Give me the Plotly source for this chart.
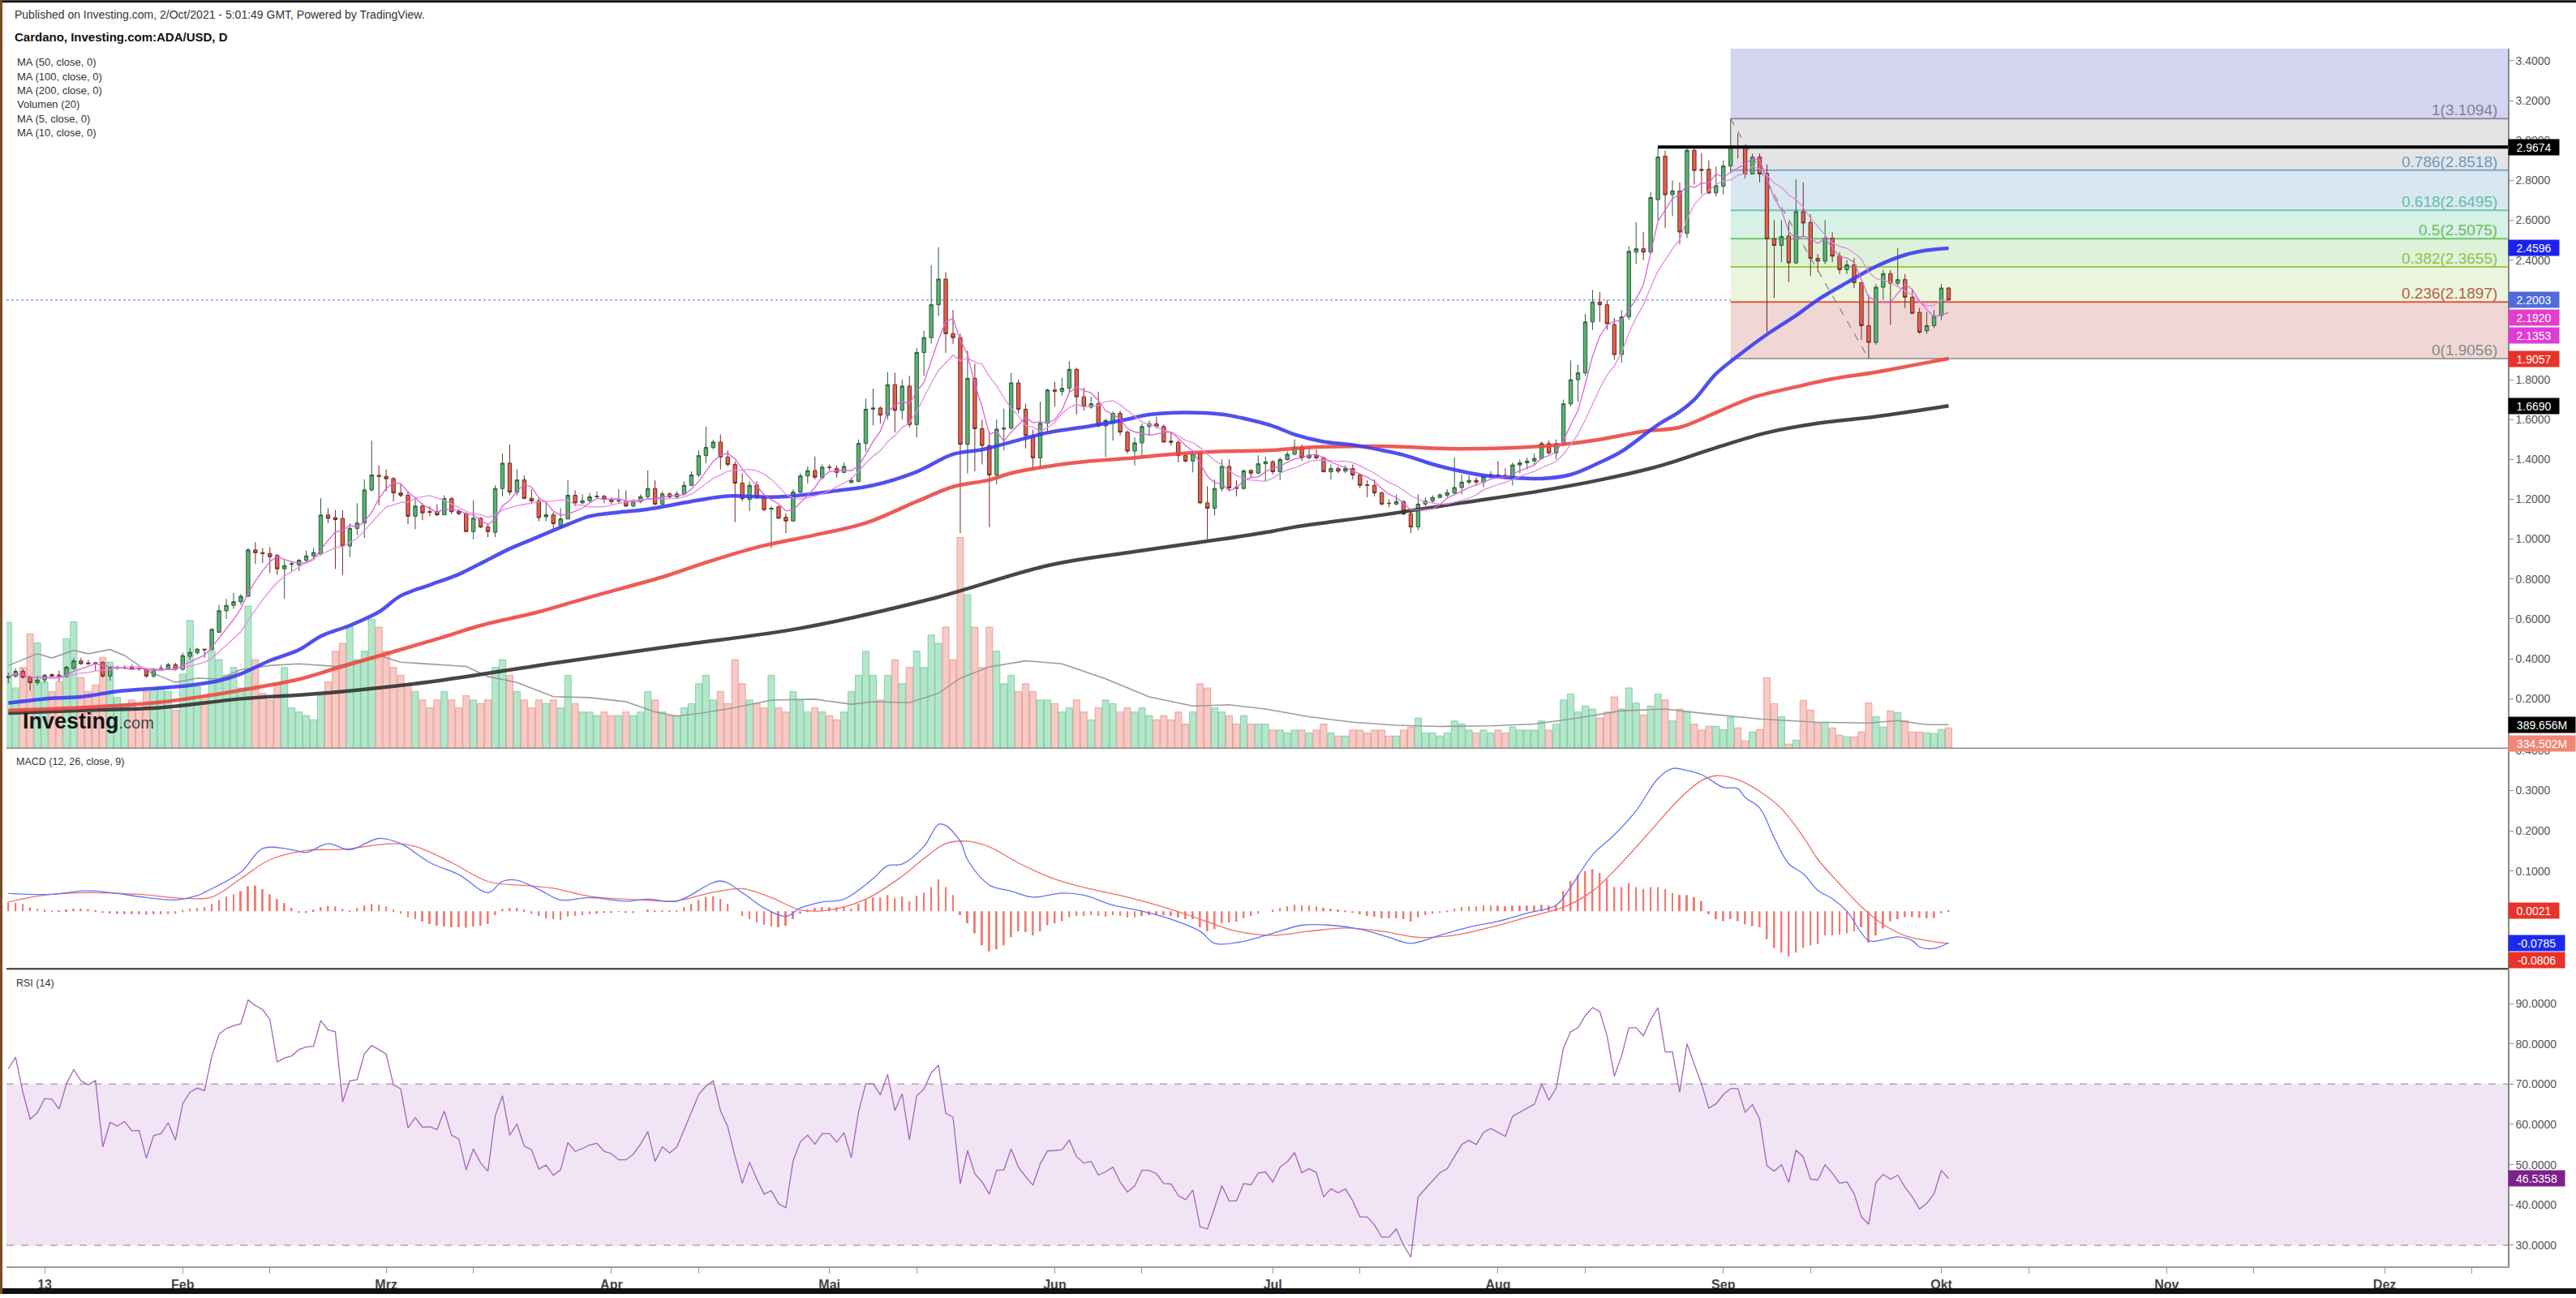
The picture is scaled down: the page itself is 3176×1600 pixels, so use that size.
import pandas as pd
import plotly.graph_objects as go

W, H = 3176, 1600
ML, MR, MT, MB = 8, 84, 60, 34
PW, PH = W - ML - MR, H - MT - MB


def px(x):
    return (x - ML) / PW


def py(y):
    return (H - MB - y) / PH


FONT = "Liberation Sans, Arial, Helvetica, sans-serif"

dates = pd.date_range("2021-01-08", "2021-10-02", freq="D")

open_ = [
    0.305, 0.312, 0.337, 0.307, 0.280, 0.293, 0.320, 0.318, 0.310, 0.351, 0.389, 0.379, 0.380, 0.383, 0.313, 0.352, 0.353, 0.360, 0.350, 0.347, 0.313, 0.347, 0.350, 0.370,
    0.347, 0.412, 0.430, 0.448, 0.445, 0.533, 0.641, 0.668, 0.686, 0.713, 0.946, 0.932, 0.928, 0.918, 0.851, 0.873, 0.871, 0.894, 0.916, 0.925, 1.121, 1.108, 1.104, 0.966, 1.054, 1.081, 1.247, 1.320,
    1.315, 1.304, 1.232, 1.220, 1.115, 1.166, 1.138, 1.138, 1.122, 1.203, 1.139, 1.128, 1.038, 1.105, 1.061, 1.034, 1.254, 1.381, 1.236, 1.297, 1.205, 1.192, 1.112, 1.122, 1.070, 1.101, 1.220, 1.182, 1.193, 1.212, 1.215,
    1.200, 1.191, 1.191, 1.166, 1.189, 1.213, 1.254, 1.176, 1.227, 1.212, 1.227, 1.270, 1.322, 1.419, 1.460, 1.487, 1.412, 1.375, 1.281, 1.200, 1.270, 1.212, 1.150, 1.162, 1.110, 1.091, 1.236, 1.317, 1.344, 1.309,
    1.361, 1.354, 1.335, 1.284, 1.290, 1.480, 1.652, 1.658, 1.622, 1.775, 1.646, 1.768, 1.575, 1.936, 2.011, 2.176, 2.305, 2.031, 2.011, 1.476, 1.807, 1.554, 1.470, 1.322, 1.552, 1.557, 1.784, 1.652, 1.520, 1.408, 1.581,
    1.748, 1.741, 1.757, 1.852, 1.714, 1.662, 1.679, 1.568, 1.581, 1.631, 1.537, 1.442, 1.483, 1.565, 1.579, 1.565, 1.492, 1.486, 1.419, 1.392, 1.430, 1.182, 1.155, 1.254, 1.365, 1.260, 1.254, 1.345, 1.331, 1.378,
    1.388, 1.338, 1.399, 1.426, 1.462, 1.408, 1.422, 1.408, 1.338, 1.354, 1.341, 1.354, 1.322, 1.272, 1.270, 1.232, 1.180, 1.176, 1.189, 1.128, 1.061, 1.176, 1.192, 1.209, 1.220, 1.232, 1.259, 1.286, 1.295, 1.286, 1.314,
    1.322, 1.320, 1.310, 1.372, 1.383, 1.392, 1.405, 1.480, 1.433, 1.480, 1.679, 1.800, 1.834, 2.090, 2.190, 2.176, 2.077, 1.926, 2.115, 2.440, 2.457, 2.440, 2.703, 2.922, 2.728, 2.747, 2.534, 2.951, 2.855, 2.856, 2.737,
    2.771, 2.872, 2.970, 2.967, 2.832, 2.917, 2.835, 2.507, 2.474, 2.521, 2.386, 2.643, 2.589, 2.409, 2.395, 2.510, 2.420, 2.352, 2.376, 2.287, 2.071, 1.987, 2.264, 2.332, 2.284, 2.302, 2.214, 2.138, 2.045, 2.071,
    2.122, 2.260,
]
high = [
    0.330, 0.351, 0.351, 0.315, 0.315, 0.325, 0.327, 0.340, 0.365, 0.405, 0.405, 0.395, 0.383, 0.386, 0.360, 0.365, 0.367, 0.370, 0.358, 0.352, 0.355, 0.370, 0.380, 0.380,
    0.430, 0.455, 0.455, 0.450, 0.555, 0.670, 0.700, 0.730, 0.725, 0.955, 0.985, 0.955, 0.960, 0.925, 0.895, 0.890, 0.900, 0.942, 0.955, 1.205, 1.155, 1.146, 1.145, 1.080, 1.180, 1.300, 1.495, 1.370,
    1.350, 1.310, 1.275, 1.240, 1.200, 1.180, 1.165, 1.175, 1.220, 1.210, 1.150, 1.135, 1.195, 1.110, 1.075, 1.270, 1.430, 1.475, 1.350, 1.320, 1.250, 1.210, 1.185, 1.135, 1.155, 1.295, 1.245, 1.225, 1.232, 1.240, 1.222,
    1.210, 1.250, 1.245, 1.200, 1.225, 1.345, 1.295, 1.240, 1.235, 1.240, 1.290, 1.340, 1.445, 1.565, 1.500, 1.525, 1.445, 1.390, 1.330, 1.290, 1.290, 1.225, 1.165, 1.170, 1.130, 1.250, 1.330, 1.365, 1.415, 1.375,
    1.375, 1.370, 1.385, 1.310, 1.500, 1.705, 1.755, 1.665, 1.838, 1.835, 1.800, 1.820, 1.960, 2.045, 2.375, 2.465, 2.340, 2.150, 2.030, 1.945, 1.880, 1.600, 1.540, 1.600, 1.655, 1.835, 1.800, 1.680, 1.548, 1.690, 1.755,
    1.790, 1.810, 1.893, 1.860, 1.760, 1.715, 1.740, 1.605, 1.640, 1.645, 1.545, 1.510, 1.580, 1.595, 1.615, 1.575, 1.540, 1.497, 1.430, 1.445, 1.440, 1.265, 1.300, 1.400, 1.400, 1.295, 1.350, 1.350, 1.420, 1.415,
    1.397, 1.410, 1.440, 1.500, 1.475, 1.465, 1.450, 1.415, 1.375, 1.365, 1.370, 1.375, 1.330, 1.295, 1.300, 1.240, 1.200, 1.225, 1.195, 1.140, 1.225, 1.210, 1.220, 1.230, 1.250, 1.410, 1.325, 1.320, 1.310, 1.325, 1.340,
    1.392, 1.355, 1.385, 1.400, 1.410, 1.430, 1.490, 1.495, 1.500, 1.700, 1.897, 1.875, 2.130, 2.250, 2.240, 2.200, 2.110, 2.150, 2.470, 2.590, 2.540, 2.740, 2.965, 2.950, 2.800, 2.790, 2.960, 2.960, 2.937, 2.900, 2.870,
    2.900, 3.1094, 3.035, 2.975, 2.935, 2.935, 2.880, 2.600, 2.600, 2.590, 2.805, 2.790, 2.630, 2.430, 2.600, 2.540, 2.440, 2.400, 2.410, 2.290, 2.225, 2.280, 2.350, 2.350, 2.460, 2.330, 2.250, 2.160, 2.140, 2.150,
    2.280, 2.265,
]
low = [
    0.276, 0.305, 0.300, 0.240, 0.268, 0.280, 0.305, 0.285, 0.305, 0.345, 0.370, 0.370, 0.340, 0.305, 0.290, 0.345, 0.348, 0.343, 0.340, 0.305, 0.305, 0.340, 0.345, 0.340,
    0.340, 0.395, 0.420, 0.405, 0.445, 0.530, 0.600, 0.650, 0.670, 0.713, 0.875, 0.880, 0.830, 0.820, 0.700, 0.838, 0.840, 0.880, 0.900, 0.918, 1.080, 0.851, 0.820, 0.910, 1.020, 1.005, 1.240, 1.170,
    1.240, 1.190, 1.210, 1.075, 1.050, 1.095, 1.115, 1.115, 1.120, 1.125, 1.120, 1.035, 1.000, 1.055, 1.010, 1.010, 1.215, 1.220, 1.220, 1.200, 1.175, 1.090, 1.090, 1.050, 1.055, 1.100, 1.165, 1.175, 1.185, 1.205, 1.180,
    1.175, 1.180, 1.160, 1.160, 1.180, 1.205, 1.170, 1.170, 1.205, 1.205, 1.220, 1.265, 1.310, 1.380, 1.450, 1.350, 1.365, 1.085, 1.190, 1.140, 1.200, 1.140, 0.955, 1.100, 1.030, 1.090, 1.230, 1.280, 1.300, 1.300,
    1.345, 1.310, 1.330, 1.280, 1.285, 1.440, 1.570, 1.580, 1.600, 1.535, 1.600, 1.560, 1.510, 1.820, 1.980, 2.120, 1.935, 1.980, 1.030, 1.330, 1.340, 1.375, 1.060, 1.275, 1.445, 1.550, 1.630, 1.455, 1.345, 1.355, 1.535,
    1.665, 1.720, 1.735, 1.625, 1.645, 1.655, 1.560, 1.412, 1.495, 1.520, 1.430, 1.370, 1.405, 1.520, 1.555, 1.485, 1.470, 1.385, 1.385, 1.335, 1.175, 1.000, 1.120, 1.240, 1.240, 1.215, 1.250, 1.305, 1.325, 1.290,
    1.325, 1.295, 1.395, 1.420, 1.392, 1.400, 1.400, 1.335, 1.300, 1.330, 1.330, 1.300, 1.255, 1.210, 1.215, 1.170, 1.160, 1.170, 1.120, 1.030, 1.045, 1.165, 1.180, 1.205, 1.210, 1.225, 1.225, 1.275, 1.270, 1.260, 1.305,
    1.310, 1.300, 1.270, 1.330, 1.350, 1.370, 1.400, 1.425, 1.400, 1.470, 1.665, 1.690, 1.820, 2.050, 2.090, 2.050, 1.900, 1.885, 2.100, 2.380, 2.400, 2.430, 2.600, 2.560, 2.620, 2.480, 2.510, 2.780, 2.730, 2.730, 2.720,
    2.730, 2.840, 2.910, 2.810, 2.830, 2.790, 2.040, 2.210, 2.390, 2.290, 2.380, 2.515, 2.320, 2.340, 2.380, 2.390, 2.330, 2.330, 2.260, 2.000, 1.9056, 1.975, 2.200, 2.075, 2.270, 2.160, 2.130, 2.030, 2.030, 2.060,
    2.100, 2.195,
]
close = [
    0.312, 0.337, 0.307, 0.280, 0.293, 0.317, 0.313, 0.310, 0.357, 0.389, 0.375, 0.375, 0.378, 0.313, 0.355, 0.356, 0.358, 0.348, 0.349, 0.313, 0.347, 0.353, 0.370, 0.347,
    0.416, 0.432, 0.448, 0.445, 0.547, 0.641, 0.668, 0.686, 0.713, 0.946, 0.932, 0.928, 0.912, 0.851, 0.867, 0.877, 0.894, 0.916, 0.933, 1.121, 1.104, 1.098, 0.966, 1.054, 1.081, 1.247, 1.322, 1.315,
    1.303, 1.232, 1.220, 1.115, 1.166, 1.132, 1.135, 1.122, 1.203, 1.138, 1.128, 1.038, 1.105, 1.061, 1.038, 1.254, 1.381, 1.236, 1.297, 1.205, 1.192, 1.108, 1.122, 1.078, 1.101, 1.220, 1.182, 1.193, 1.212, 1.215, 1.200,
    1.189, 1.193, 1.166, 1.189, 1.213, 1.254, 1.176, 1.227, 1.212, 1.227, 1.270, 1.322, 1.419, 1.460, 1.487, 1.412, 1.375, 1.281, 1.203, 1.270, 1.209, 1.148, 1.155, 1.105, 1.091, 1.236, 1.317, 1.344, 1.311, 1.361,
    1.360, 1.335, 1.365, 1.295, 1.480, 1.652, 1.658, 1.622, 1.775, 1.646, 1.768, 1.575, 1.936, 2.011, 2.176, 2.305, 2.031, 2.011, 1.476, 1.807, 1.554, 1.470, 1.322, 1.552, 1.557, 1.784, 1.652, 1.520, 1.408, 1.581, 1.748,
    1.742, 1.757, 1.852, 1.714, 1.665, 1.679, 1.568, 1.595, 1.631, 1.537, 1.442, 1.483, 1.565, 1.579, 1.565, 1.487, 1.486, 1.419, 1.392, 1.430, 1.182, 1.155, 1.254, 1.365, 1.257, 1.254, 1.342, 1.331, 1.378, 1.388,
    1.338, 1.399, 1.426, 1.462, 1.408, 1.422, 1.408, 1.338, 1.354, 1.341, 1.354, 1.322, 1.270, 1.270, 1.232, 1.176, 1.179, 1.189, 1.126, 1.061, 1.176, 1.192, 1.209, 1.222, 1.233, 1.259, 1.286, 1.295, 1.286, 1.314, 1.324,
    1.320, 1.310, 1.372, 1.383, 1.392, 1.405, 1.480, 1.433, 1.480, 1.679, 1.800, 1.834, 2.090, 2.190, 2.176, 2.081, 1.926, 2.115, 2.444, 2.457, 2.440, 2.714, 2.917, 2.728, 2.747, 2.541, 2.951, 2.850, 2.850, 2.737, 2.774,
    2.872, 2.967, 2.962, 2.832, 2.917, 2.832, 2.507, 2.474, 2.518, 2.386, 2.643, 2.586, 2.409, 2.395, 2.510, 2.420, 2.352, 2.376, 2.287, 2.071, 1.987, 2.264, 2.332, 2.284, 2.302, 2.214, 2.133, 2.038, 2.071, 2.119,
    2.260, 2.2003,
]
volume_m = [
    2090, 1000, 1340, 1900, 1750, 1100, 940, 1100, 1820, 2100, 1170, 940, 1050, 1510, 1430, 840, 740, 800, 670, 940, 1000, 1000, 940, 630,
    1230, 2120, 1020, 870, 1610, 1470, 1210, 1340, 1000, 2360, 1470, 910, 800, 1070, 1340, 670, 600, 540, 470, 870, 1100, 1610, 1740, 2010, 1470, 1610, 2140, 2010,
    1610, 1340, 1210, 1070, 940, 800, 670, 800, 940, 800, 670, 870, 800, 740, 800, 1340, 1470, 1210, 940, 800, 670, 800, 740, 800, 670, 1210, 740, 600, 600, 540, 600,
    540, 540, 600, 540, 600, 940, 800, 600, 540, 540, 670, 740, 1070, 1210, 800, 940, 740, 1470, 1070, 800, 740, 670, 1210, 670, 600, 940, 800, 600, 670, 600,
    540, 470, 600, 940, 1210, 1610, 1210, 800, 1210, 1470, 1070, 1340, 1610, 1340, 1880, 1740, 2010, 1470, 3500, 2550, 2010, 1340, 2010, 1610, 1070, 1210, 940, 1070, 940, 800, 800,
    740, 600, 670, 800, 600, 470, 670, 800, 740, 600, 670, 600, 670, 540, 470, 540, 470, 600, 400, 600, 1070, 1000, 670, 600, 540, 400, 540, 400, 400, 400,
    300, 300, 250, 300, 300, 250, 300, 400, 250, 200, 200, 300, 300, 250, 300, 300, 200, 200, 300, 350, 500, 250, 250, 200, 250, 450, 400, 300, 250, 300, 250,
    300, 250, 350, 300, 300, 300, 450, 300, 400, 800, 900, 600, 700, 650, 500, 600, 850, 650, 1000, 750, 550, 700, 900, 800, 450, 650, 600, 400, 300, 363, 363,
    309, 511, 336, 121, 269, 309, 1169, 739, 524, 67, 134, 793, 632, 417, 430, 336, 215, 188, 188, 270, 753, 524, 349, 618, 591, 457, 269, 269, 255, 242,
    309, 334.502,
]
rsi = [
    73.8, 76.7, 68.0, 61.3, 62.9, 66.4, 66.2, 63.8, 70.1, 73.6, 70.8, 69.8, 70.9, 54.4, 60.5, 59.6, 60.7, 58.4, 58.5, 51.6, 57.2, 57.7, 60.4, 56.1,
    65.1, 68.0, 69.0, 68.4, 76.9, 82.4, 83.8, 84.5, 85.0, 90.9, 89.5, 88.5, 86.0, 75.5, 76.5, 77.0, 78.6, 79.2, 79.4, 85.8, 83.5, 83.0, 65.6, 70.8, 71.1, 77.5, 79.6, 78.5,
    77.5, 69.8, 68.8, 59.1, 61.7, 59.3, 59.4, 58.7, 63.3, 57.3, 56.4, 48.7, 53.9, 50.4, 48.4, 62.1, 67.1, 57.3, 60.1, 54.6, 53.7, 48.9, 49.9, 47.4, 48.7, 55.5, 53.3, 54.0, 54.9, 55.3, 53.3,
    52.7, 51.2, 51.2, 52.6, 55.1, 58.2, 50.8, 54.4, 52.9, 54.4, 58.7, 63.0, 67.4, 69.5, 70.8, 63.4, 59.4, 52.0, 45.4, 50.6, 46.4, 42.7, 43.5, 40.3, 39.3, 51.0, 55.7, 57.3, 55.1, 57.7,
    57.7, 55.6, 57.9, 51.7, 63.1, 70.1, 70.1, 67.3, 72.4, 63.4, 67.6, 56.2, 67.1, 68.8, 72.8, 74.7, 62.8, 61.8, 45.2, 53.5, 47.7, 45.7, 42.7, 48.6, 48.7, 53.9, 49.4, 47.0, 44.9, 50.2, 53.4,
    53.5, 53.7, 56.1, 52.0, 50.4, 50.8, 47.4, 48.2, 49.4, 45.7, 43.2, 44.7, 48.6, 48.6, 47.7, 45.3, 45.2, 42.3, 41.3, 43.7, 34.6, 34.0, 39.3, 44.8, 41.0, 41.0, 45.3, 45.0, 47.9, 48.2,
    45.7, 49.4, 50.7, 53.0, 48.0, 49.0, 48.0, 42.0, 44.0, 43.0, 44.0, 41.0, 37.0, 37.0, 35.0, 32.0, 32.0, 34.0, 30.0, 27.0, 42.0, 44.0, 46.0, 48.0, 49.0, 52.0, 55.0, 56.0, 55.0, 58.0, 59.0,
    58.0, 57.0, 62.0, 63.0, 64.0, 65.0, 70.0, 66.0, 69.0, 79.0, 83.0, 84.0, 87.0, 89.0, 88.0, 82.0, 72.0, 77.0, 84.0, 84.0, 82.0, 86.0, 89.0, 78.0, 78.0, 68.0, 80.0, 75.0, 70.0, 64.0, 65.1,
    67.4, 68.9, 68.9, 63.0, 64.9, 61.3, 49.7, 48.4, 50.0, 45.6, 53.6, 51.9, 46.4, 46.2, 50.0, 47.9, 45.4, 45.7, 42.8, 37.0, 35.2, 45.6, 47.6, 46.4, 47.4, 44.4, 42.0, 39.0, 40.4, 42.8,
    48.6, 46.5358,
]
macd_hist = [
    0.022, 0.020, 0.018, 0.010, 0.006, 0.004, 0.002, 0.001, 0.004, 0.006, 0.006, 0.005, 0.002, -0.004, -0.006, -0.007, -0.008, -0.008, -0.008, -0.009, -0.008, -0.008, -0.007, -0.006,
    0.003, 0.006, 0.008, 0.010, 0.018, 0.028, 0.036, 0.042, 0.050, 0.062, 0.064, 0.055, 0.042, 0.030, 0.020, 0.008, -0.003, -0.004, 0.004, 0.010, 0.013, 0.012, 0.006, 0.002, 0.008, 0.014, 0.018, 0.016,
    0.012, 0.004, -0.006, -0.015, -0.020, -0.026, -0.032, -0.036, -0.038, -0.040, -0.040, -0.041, -0.038, -0.036, -0.032, -0.010, 0.006, 0.008, 0.008, 0.004, -0.006, -0.012, -0.018, -0.020, -0.022, -0.014, -0.012, -0.010, -0.008, -0.006, -0.004,
    -0.002, -0.001, -0.003, -0.002, 0.000, 0.004, 0.001, 0.002, 0.001, 0.002, 0.010, 0.018, 0.028, 0.035, 0.037, 0.030, 0.018, 0.000, -0.012, -0.020, -0.028, -0.034, -0.038, -0.040, -0.036, -0.020, -0.006, 0.004, 0.008, 0.010,
    0.010, 0.010, 0.012, 0.006, 0.018, 0.030, 0.034, 0.034, 0.040, 0.032, 0.036, 0.024, 0.038, 0.046, 0.060, 0.079, 0.060, 0.040, -0.010, -0.030, -0.055, -0.085, -0.100, -0.095, -0.085, -0.065, -0.050, -0.052, -0.060, -0.050, -0.035,
    -0.030, -0.025, -0.015, -0.012, -0.012, -0.010, -0.012, -0.014, -0.010, -0.012, -0.016, -0.016, -0.012, -0.010, -0.008, -0.010, -0.012, -0.016, -0.020, -0.020, -0.040, -0.050, -0.045, -0.030, -0.028, -0.026, -0.018, -0.012, -0.006, 0.000,
    0.004, 0.008, 0.012, 0.016, 0.014, 0.014, 0.012, 0.008, 0.006, 0.004, 0.002, -0.002, -0.008, -0.012, -0.014, -0.018, -0.018, -0.018, -0.020, -0.026, -0.016, -0.010, -0.006, -0.002, 0.002, 0.006, 0.010, 0.012, 0.012, 0.014, 0.014,
    0.014, 0.012, 0.014, 0.014, 0.014, 0.014, 0.016, 0.014, 0.016, 0.050, 0.075, 0.090, 0.100, 0.105, 0.095, 0.080, 0.060, 0.060, 0.070, 0.060, 0.055, 0.060, 0.060, 0.055, 0.045, 0.040, 0.040, 0.035, 0.025, -0.008, -0.020,
    -0.025, -0.020, -0.025, -0.033, -0.037, -0.040, -0.070, -0.092, -0.103, -0.113, -0.103, -0.091, -0.085, -0.082, -0.060, -0.060, -0.058, -0.055, -0.050, -0.040, -0.078, -0.060, -0.043, -0.025, -0.020, -0.015, -0.015, -0.017, -0.018, -0.017,
    -0.005, 0.0021,
]

ma50_dates = ["2021-01-08", "2021-01-14", "2021-01-18", "2021-01-23", "2021-01-29", "2021-02-02", "2021-02-06", "2021-02-09", "2021-02-13", "2021-02-17", "2021-02-20", "2021-02-24", "2021-02-28", "2021-03-03", "2021-03-07", "2021-03-11", "2021-03-14", "2021-03-18", "2021-03-22", "2021-03-26", "2021-03-29", "2021-04-02", "2021-04-06", "2021-04-13", "2021-04-17", "2021-04-24", "2021-05-02", "2021-05-07", "2021-05-13", "2021-05-18", "2021-05-22", "2021-05-26", "2021-05-31", "2021-06-06", "2021-06-11", "2021-06-14", "2021-06-19", "2021-06-24", "2021-06-27", "2021-07-01", "2021-07-04", "2021-07-08", "2021-07-12", "2021-07-16", "2021-07-19", "2021-07-23", "2021-07-27", "2021-07-30", "2021-08-03", "2021-08-07", "2021-08-11", "2021-08-15", "2021-08-18", "2021-08-23", "2021-08-26", "2021-08-28", "2021-08-31", "2021-09-03", "2021-09-07", "2021-09-11", "2021-09-14", "2021-09-18", "2021-09-22", "2021-09-26", "2021-09-29", "2021-10-02"]
ma50_vals = [0.178, 0.202, 0.209, 0.236, 0.253, 0.267, 0.290, 0.324, 0.391, 0.445, 0.513, 0.567, 0.635, 0.716, 0.770, 0.824, 0.878, 0.952, 1.013, 1.074, 1.115, 1.135, 1.150, 1.196, 1.216, 1.212, 1.243, 1.270, 1.338, 1.426, 1.449, 1.487, 1.534, 1.568, 1.602, 1.625, 1.635, 1.626, 1.606, 1.568, 1.525, 1.489, 1.473, 1.446, 1.422, 1.376, 1.340, 1.320, 1.308, 1.304, 1.324, 1.385, 1.440, 1.574, 1.640, 1.700, 1.830, 1.919, 2.027, 2.122, 2.201, 2.287, 2.368, 2.426, 2.449, 2.4596]

ma100_dates = ["2021-01-08", "2021-01-18", "2021-01-29", "2021-02-09", "2021-02-17", "2021-02-22", "2021-03-08", "2021-03-14", "2021-03-22", "2021-03-29", "2021-04-08", "2021-04-13", "2021-04-21", "2021-04-28", "2021-05-06", "2021-05-13", "2021-05-18", "2021-05-23", "2021-05-26", "2021-05-31", "2021-06-06", "2021-06-11", "2021-06-17", "2021-06-23", "2021-07-01", "2021-07-06", "2021-07-16", "2021-07-27", "2021-08-07", "2021-08-11", "2021-08-15", "2021-08-21", "2021-08-26", "2021-08-31", "2021-09-05", "2021-09-11", "2021-09-16", "2021-09-22", "2021-09-28", "2021-10-02"]
ma100_vals = [0.141, 0.155, 0.182, 0.242, 0.297, 0.351, 0.499, 0.567, 0.635, 0.709, 0.810, 0.871, 0.959, 1.013, 1.081, 1.189, 1.263, 1.297, 1.331, 1.365, 1.392, 1.405, 1.426, 1.439, 1.446, 1.460, 1.466, 1.453, 1.466, 1.480, 1.500, 1.541, 1.561, 1.635, 1.710, 1.764, 1.804, 1.838, 1.879, 1.9057]

ma200_dates = ["2021-01-08", "2021-01-18", "2021-01-29", "2021-02-09", "2021-02-17", "2021-02-22", "2021-03-07", "2021-03-24", "2021-04-10", "2021-04-27", "2021-05-15", "2021-05-31", "2021-06-11", "2021-06-24", "2021-07-01", "2021-07-04", "2021-07-16", "2021-07-27", "2021-08-07", "2021-08-15", "2021-08-23", "2021-08-31", "2021-09-07", "2021-09-14", "2021-09-22", "2021-10-02"]
ma200_vals = [0.127, 0.141, 0.155, 0.199, 0.218, 0.232, 0.284, 0.378, 0.466, 0.553, 0.700, 0.867, 0.932, 1.000, 1.040, 1.061, 1.121, 1.182, 1.243, 1.297, 1.365, 1.459, 1.534, 1.581, 1.615, 1.669]

volma_dates = ["2021-01-08", "2021-01-12", "2021-01-14", "2021-01-17", "2021-01-19", "2021-01-22", "2021-01-24", "2021-01-27", "2021-01-29", "2021-01-31", "2021-02-03", "2021-02-06", "2021-02-09", "2021-02-13", "2021-02-17", "2021-02-20", "2021-02-22", "2021-02-28", "2021-03-03", "2021-03-12", "2021-03-15", "2021-03-19", "2021-03-24", "2021-03-29", "2021-04-03", "2021-04-07", "2021-04-10", "2021-04-13", "2021-04-18", "2021-04-23", "2021-04-29", "2021-05-04", "2021-05-07", "2021-05-12", "2021-05-16", "2021-05-19", "2021-05-23", "2021-05-28", "2021-06-02", "2021-06-08", "2021-06-14", "2021-06-20", "2021-06-25", "2021-06-30", "2021-07-06", "2021-07-12", "2021-07-18", "2021-07-24", "2021-07-31", "2021-08-06", "2021-08-12", "2021-08-18", "2021-08-24", "2021-08-29", "2021-09-06", "2021-09-14", "2021-09-21", "2021-09-25", "2021-09-29", "2021-10-02"]
volma_vals = [1372, 1568, 1498, 1624, 1568, 1638, 1540, 1288, 1190, 1092, 1162, 1148, 1302, 1372, 1400, 1372, 1358, 1540, 1428, 1358, 1190, 1092, 854, 840, 770, 602, 532, 574, 672, 798, 812, 728, 770, 756, 910, 1162, 1350, 1450, 1400, 1150, 850, 700, 720, 650, 520, 430, 380, 360, 370, 400, 500, 620, 650, 580, 483, 430, 416, 456, 390, 389.656]

macd_dates = ["2021-01-08", "2021-01-14", "2021-01-18", "2021-01-20", "2021-01-23", "2021-01-27", "2021-01-31", "2021-02-03", "2021-02-04", "2021-02-09", "2021-02-12", "2021-02-16", "2021-02-18", "2021-02-21", "2021-02-24", "2021-02-28", "2021-03-03", "2021-03-07", "2021-03-11", "2021-03-15", "2021-03-17", "2021-03-19", "2021-03-22", "2021-03-25", "2021-03-29", "2021-04-03", "2021-04-06", "2021-04-10", "2021-04-16", "2021-04-19", "2021-04-22", "2021-04-25", "2021-04-27", "2021-04-30", "2021-05-03", "2021-05-07", "2021-05-09", "2021-05-11", "2021-05-14", "2021-05-16", "2021-05-17", "2021-05-19", "2021-05-20", "2021-05-23", "2021-05-26", "2021-05-29", "2021-06-02", "2021-06-05", "2021-06-09", "2021-06-13", "2021-06-17", "2021-06-21", "2021-06-23", "2021-06-27", "2021-07-01", "2021-07-05", "2021-07-09", "2021-07-13", "2021-07-17", "2021-07-20", "2021-07-24", "2021-07-28", "2021-08-01", "2021-08-05", "2021-08-09", "2021-08-11", "2021-08-14", "2021-08-17", "2021-08-20", "2021-08-23", "2021-08-25", "2021-08-27", "2021-08-29", "2021-09-01", "2021-09-03", "2021-09-04", "2021-09-06", "2021-09-08", "2021-09-10", "2021-09-12", "2021-09-14", "2021-09-16", "2021-09-18", "2021-09-21", "2021-09-23", "2021-09-25", "2021-09-27", "2021-09-28", "2021-09-30", "2021-10-02"]
macd_vals = [0.044, 0.042, 0.050, 0.050, 0.044, 0.034, 0.028, 0.039, 0.047, 0.097, 0.156, 0.153, 0.146, 0.168, 0.153, 0.181, 0.168, 0.121, 0.091, 0.046, 0.074, 0.077, 0.054, 0.028, 0.034, 0.025, 0.030, 0.025, 0.075, 0.046, 0.008, -0.013, 0.008, 0.023, 0.030, 0.081, 0.113, 0.117, 0.161, 0.216, 0.213, 0.174, 0.128, 0.065, 0.050, 0.035, 0.045, 0.040, 0.015, 0.000, -0.020, -0.050, -0.080, -0.075, -0.055, -0.035, -0.035, -0.045, -0.065, -0.080, -0.060, -0.040, -0.025, -0.005, 0.015, 0.060, 0.140, 0.190, 0.250, 0.330, 0.355, 0.350, 0.340, 0.308, 0.305, 0.283, 0.257, 0.183, 0.118, 0.093, 0.052, 0.031, 0.000, -0.073, -0.071, -0.064, -0.073, -0.089, -0.093, -0.0785]

signal_dates = ["2021-01-08", "2021-01-13", "2021-01-19", "2021-01-26", "2021-02-01", "2021-02-05", "2021-02-09", "2021-02-13", "2021-02-18", "2021-02-23", "2021-03-02", "2021-03-05", "2021-03-10", "2021-03-15", "2021-03-20", "2021-03-24", "2021-03-29", "2021-04-05", "2021-04-10", "2021-04-15", "2021-04-19", "2021-04-23", "2021-04-27", "2021-05-01", "2021-05-06", "2021-05-11", "2021-05-14", "2021-05-17", "2021-05-20", "2021-05-23", "2021-05-27", "2021-06-01", "2021-06-06", "2021-06-11", "2021-06-16", "2021-06-21", "2021-06-26", "2021-07-01", "2021-07-06", "2021-07-11", "2021-07-16", "2021-07-21", "2021-07-26", "2021-07-31", "2021-08-05", "2021-08-10", "2021-08-14", "2021-08-18", "2021-08-22", "2021-08-26", "2021-08-29", "2021-08-31", "2021-09-03", "2021-09-06", "2021-09-09", "2021-09-12", "2021-09-14", "2021-09-17", "2021-09-20", "2021-09-23", "2021-09-26", "2021-09-29", "2021-10-02"]
signal_vals = [0.023, 0.040, 0.046, 0.042, 0.032, 0.035, 0.081, 0.128, 0.151, 0.154, 0.168, 0.161, 0.121, 0.074, 0.064, 0.057, 0.037, 0.028, 0.026, 0.047, 0.056, 0.034, 0.003, 0.003, 0.030, 0.087, 0.131, 0.168, 0.174, 0.160, 0.120, 0.080, 0.055, 0.035, 0.010, -0.020, -0.050, -0.060, -0.050, -0.042, -0.050, -0.065, -0.060, -0.040, -0.015, 0.010, 0.050, 0.120, 0.200, 0.280, 0.325, 0.337, 0.327, 0.298, 0.255, 0.185, 0.129, 0.068, 0.011, -0.033, -0.061, -0.073, -0.0806]

fib_ratios = [0, 0.236, 0.382, 0.5, 0.618, 0.786, 1]
fib_levels = [1.9056, 2.1897, 2.3655, 2.5075, 2.6495, 2.8518, 3.1094]
fib_start, fib_end_low = "2021-09-02", "2021-09-21"
resistance_level, resistance_start = 2.9674, "2021-08-23"
price_ticks = [0.2, 0.4, 0.6, 0.8, 1.0, 1.2, 1.4, 1.6, 1.8, 2.4, 2.6, 2.8, 3.0, 3.2, 3.4]
macd_ticks = [0.1, 0.2, 0.3, 0.4]
rsi_ticks = [30, 40, 50, 60, 70, 80, 90]

n = len(dates)
assert all(len(a) == n for a in (open_, high, low, close, volume_m, rsi, macd_hist)), [len(a) for a in (open_, high, low, close, volume_m, rsi, macd_hist)]

closes = pd.Series(close, index=dates)
ma5 = closes.rolling(5, min_periods=1).mean()
ma10 = closes.rolling(10, min_periods=1).mean()

X0 = pd.Timestamp("2021-01-07 18:00")
X1 = pd.Timestamp("2021-12-17 23:00")

P_TOP, P_BOT, M_BOT, R_BOT = 60, 925, 1198, 1566
dom_price = [py(P_BOT), 1]
dom_macd = [py(M_BOT), py(P_BOT)]
dom_rsi = [0, py(M_BOT)]
PRICE_PER_PX = 1 / 246.5
price_range = [3.4 - (P_BOT - 75) * PRICE_PER_PX, 3.4 + (75 - P_TOP) * PRICE_PER_PX]
macd_range = [-(M_BOT - 1126.7) / 497, (1126.7 - P_BOT) / 497]
rsi_range = [90 - (R_BOT - 1241) / 4.98, 90 + (1241 - M_BOT) / 4.98]
vol_range = [0, (P_BOT - P_TOP) * 13.44]

fig = go.Figure()

up = [c >= o for o, c in zip(open_, close)]
fig.add_trace(go.Bar(
    x=dates, y=volume_m, width=0.9 * 86400000,
    marker=dict(color=["rgba(120,210,160,0.55)" if u else "rgba(238,150,140,0.5)" for u in up],
                line=dict(color=["rgba(100,195,145,0.7)" if u else "rgba(228,130,120,0.65)" for u in up], width=1)),
    xaxis="x", yaxis="y", hoverinfo="skip"))
fig.add_trace(go.Scatter(x=volma_dates, y=volma_vals, mode="lines", line=dict(color="#9b9b9b", width=1.6), xaxis="x", yaxis="y", hoverinfo="skip"))

fig.add_trace(go.Scatter(x=ma200_dates, y=ma200_vals, mode="lines", line=dict(color="rgba(50,50,50,0.9)", width=4.5, shape="spline"), xaxis="x", yaxis="y2", hoverinfo="skip"))
fig.add_trace(go.Scatter(x=ma100_dates, y=ma100_vals, mode="lines", line=dict(color="rgba(236,72,66,0.9)", width=4.5, shape="spline"), xaxis="x", yaxis="y2", hoverinfo="skip"))
fig.add_trace(go.Scatter(x=ma50_dates, y=ma50_vals, mode="lines", line=dict(color="rgba(60,60,240,0.9)", width=4.5, shape="spline"), xaxis="x", yaxis="y2", hoverinfo="skip"))
fig.add_trace(go.Scatter(x=dates, y=ma10, mode="lines", line=dict(color="#E88AE6", width=1.3), xaxis="x", yaxis="y2", hoverinfo="skip"))
fig.add_trace(go.Scatter(x=dates, y=ma5, mode="lines", line=dict(color="#E060DC", width=1.3), xaxis="x", yaxis="y2", hoverinfo="skip"))

fig.add_trace(go.Candlestick(
    x=dates, open=open_, high=high, low=low, close=close,
    increasing=dict(line=dict(color="#2E5A3A", width=1), fillcolor="#56B470"),
    decreasing=dict(line=dict(color="#6E2B22", width=1), fillcolor="#E2604F"),
    whiskerwidth=0, xaxis="x", yaxis="y2", hoverinfo="skip"))

fig.add_trace(go.Bar(x=dates, y=macd_hist, width=0.22 * 86400000, marker=dict(color="#F07A72", line=dict(width=0)), xaxis="x", yaxis="y3", hoverinfo="skip"))
fig.add_trace(go.Scatter(x=signal_dates, y=signal_vals, mode="lines", line=dict(color="#F26B6B", width=1.3, shape="spline"), xaxis="x", yaxis="y3", hoverinfo="skip"))
fig.add_trace(go.Scatter(x=macd_dates, y=macd_vals, mode="lines", line=dict(color="#6172F5", width=1.3, shape="spline"), xaxis="x", yaxis="y3", hoverinfo="skip"))

fig.add_trace(go.Scatter(x=dates, y=rsi, mode="lines", line=dict(color="#A663BE", width=1.3), xaxis="x", yaxis="y4", hoverinfo="skip"))

shapes = []
shapes.append(dict(type="rect", xref="paper", x0=0, x1=1, yref="y4", y0=30, y1=70, fillcolor="#F1E4F4", line=dict(width=0), layer="below"))
for lv in (30, 70):
    shapes.append(dict(type="line", xref="paper", x0=0, x1=1, yref="y4", y0=lv, y1=lv, line=dict(color="#A8A8A8", width=1.5, dash="dash"), layer="below"))

fib_fills = ["#F1D6D6", "#EBF4DC", "#DDF2D9", "#D8F1E6", "#D9E7F1", "#E4E4E4"]
fib_lines = ["#A0A0A0", "#E0553F", "#9ACB4E", "#6FC46B", "#6CC5B2", "#79A6CC", "#8E8E9E"]
fib_text = ["#8A8A8A", "#B65F4B", "#95C04A", "#69BD5A", "#60BFA8", "#6A9CC2", "#7E809F"]
for i in range(len(fib_levels) - 1):
    shapes.append(dict(type="rect", xref="x", x0=fib_start, x1=X1, yref="y2", y0=fib_levels[i], y1=fib_levels[i + 1], fillcolor=fib_fills[i], line=dict(width=0), layer="below"))
shapes.append(dict(type="rect", xref="x", x0=fib_start, x1=X1, yref="y2", y0=fib_levels[-1], y1=price_range[1] + 0.5, fillcolor="#D5D4F1", line=dict(width=0), layer="below"))
for lv, col in zip(fib_levels, fib_lines):
    shapes.append(dict(type="line", xref="x", x0=fib_start, x1=X1, yref="y2", y0=lv, y1=lv, line=dict(color=col, width=2), layer="below"))
shapes.append(dict(type="line", xref="x", x0=fib_start, x1=fib_end_low, yref="y2", y0=fib_levels[-1], y1=fib_levels[0], line=dict(color="#808080", width=1.2, dash="dash"), layer="above"))
shapes.append(dict(type="line", xref="x", x0=resistance_start, x1=X1, yref="y2", y0=resistance_level, y1=resistance_level, line=dict(color="#000000", width=4), layer="above"))
shapes.append(dict(type="line", xref="paper", x0=0, x1=1, yref="y2", y0=close[-1], y1=close[-1], line=dict(color="#8F9CF0", width=1.5, dash="dot"), layer="below"))
shapes.append(dict(type="line", xref="paper", x0=0, x1=1, yref="paper", y0=py(P_BOT), y1=py(P_BOT), line=dict(color="#8a8a8a", width=1.5)))
shapes.append(dict(type="line", xref="paper", x0=0, x1=1, yref="paper", y0=py(M_BOT), y1=py(M_BOT), line=dict(color="#333333", width=2)))
shapes.append(dict(type="rect", xref="paper", x0=px(0), x1=px(W), yref="paper", y0=py(0), y1=py(3), fillcolor="#111111", line=dict(width=0)))
shapes.append(dict(type="rect", xref="paper", x0=px(0), x1=px(W), yref="paper", y0=py(1593), y1=py(1600), fillcolor="#111111", line=dict(width=0)))
shapes.append(dict(type="rect", xref="paper", x0=px(0), x1=px(3), yref="paper", y0=py(0), y1=py(1600), fillcolor="#7A4E22", line=dict(width=0)))

ann = []
ann.append(dict(text="Published on Investing.com, 2/Oct/2021 - 5:01:49 GMT, Powered by TradingView.", xref="paper", yref="paper", x=px(16), y=py(18), xanchor="left", yanchor="middle", showarrow=False, font=dict(family=FONT, size=14, color="#333")))
ann.append(dict(text="<b>Cardano, Investing.com:ADA/USD, D</b>", xref="paper", yref="paper", x=px(16), y=py(45), xanchor="left", yanchor="middle", showarrow=False, font=dict(family=FONT, size=15, color="#111")))
legend_lines = ["MA (50, close, 0)", "MA (100, close, 0)", "MA (200, close, 0)", "Volumen (20)", "MA (5, close, 0)", "MA (10, close, 0)"]
for i, t in enumerate(legend_lines):
    ann.append(dict(text=t, xref="paper", yref="paper", x=px(19), y=py(77 + i * 17.4), xanchor="left", yanchor="middle", showarrow=False, font=dict(family=FONT, size=13, color="#333")))
ann.append(dict(text="MACD (12, 26, close, 9)", xref="paper", yref="paper", x=px(18), y=py(942), xanchor="left", yanchor="middle", showarrow=False, font=dict(family=FONT, size=12.5, color="#333")))
ann.append(dict(text="RSI (14)", xref="paper", yref="paper", x=px(18), y=py(1216), xanchor="left", yanchor="middle", showarrow=False, font=dict(family=FONT, size=12.5, color="#333")))
ann.append(dict(text="<b>Investing</b><span style='font-size:20px;color:#444'>.com</span>", xref="paper", yref="paper", x=px(26), y=py(892), xanchor="left", yanchor="middle", showarrow=False, font=dict(family=FONT, size=27, color="#151515")))

for lv, r, col in zip(fib_levels, fib_ratios, fib_text):
    ann.append(dict(text=f"{r:g}({lv:.4f})", xref="paper", yref="y2", x=px(3081), y=lv, xanchor="right", yanchor="bottom", yshift=-2, showarrow=False, font=dict(family=FONT, size=19, color=col)))

value_labels = [
    ("2.9674", "y2", 2.9674, "#000000", 0),
    ("2.4596", "y2", 2.4596, "#1C22EE", 0),
    ("2.2003", "y2", 2.2003, "#4F6CDB", 0),
    ("2.1920", "y2", 2.1920, "#E23ECB", -20),
    ("2.1353", "y2", 2.1353, "#E03BD6", -28),
    ("1.9057", "y2", 1.9057, "#E8332A", 0),
    ("1.6690", "y2", 1.6690, "#000000", 0),
    ("389.656M", "y", 389.656, "#000000", 0),
    ("334.502M", "y", 334.502, "#F08676", -19),
    ("0.0021", "y3", 0.0021, "#E8332A", 0),
    ("-0.0785", "y3", -0.0785, "#1C2AEE", 0),
    ("-0.0806", "y3", -0.0806, "#E8332A", -20),
    ("46.5358", "y4", 46.5358, "#7B228C", 0),
]
for txt, ax, val, bg, ys in value_labels:
    wbox = 60 if len(txt) <= 6 else (67 if len(txt) == 7 else 80)
    ann.append(dict(text=txt, xref="paper", yref=ax, x=1, y=val, xanchor="left", yanchor="middle", yshift=ys, showarrow=False,
                    bgcolor=bg, borderpad=1, height=17, width=wbox, align="center",
                    font=dict(family=FONT, size=14, color="white")))

month_ticks = ["2021-01-13", "2021-02-01", "2021-02-13", "2021-03-01", "2021-03-13", "2021-04-01", "2021-04-13", "2021-05-01", "2021-05-13", "2021-06-01", "2021-06-13", "2021-07-01", "2021-07-13", "2021-08-01", "2021-08-13", "2021-09-01", "2021-09-13", "2021-10-01", "2021-10-13", "2021-11-01", "2021-11-13", "2021-12-01", "2021-12-13"]
month_text = ["13", "Feb", "", "Mrz", "", "Apr", "", "Mai", "", "Jun", "", "Jul", "", "Aug", "", "Sep", "", "Okt", "", "Nov", "", "Dez", ""]

axis_font = dict(family=FONT, size=14, color="#555")
yax_common = dict(side="right", anchor="x", showgrid=False, zeroline=False, showline=True, linecolor="#8a8a8a", linewidth=1.5,
                  ticks="outside", ticklen=5, tickcolor="#8a8a8a", tickfont=axis_font, tickformat=".4f", fixedrange=True)

fig.update_layout(
    width=W, height=H, margin=dict(l=ML, r=MR, t=MT, b=MB), paper_bgcolor="white", plot_bgcolor="white",
    showlegend=False, hovermode=False,
    xaxis=dict(type="date", range=[X0, X1], anchor="y4", showgrid=False, zeroline=False, showline=True, linecolor="#9a9a9a", linewidth=2,
               ticks="outside", ticklen=7, tickcolor="#9a9a9a", tickvals=month_ticks, ticktext=[f"<b>{t}</b>" if t else "" for t in month_text],
               tickfont=dict(family=FONT, size=16, color="#444"), rangeslider=dict(visible=False), fixedrange=True),
    yaxis=dict(domain=dom_price, range=vol_range, visible=False, fixedrange=True),
    yaxis2=dict(overlaying="y", range=price_range, tickvals=price_ticks, **yax_common),
    yaxis3=dict(domain=dom_macd, range=macd_range, tickvals=macd_ticks, **yax_common),
    yaxis4=dict(domain=dom_rsi, range=rsi_range, tickvals=rsi_ticks, **yax_common),
    shapes=shapes, annotations=ann,
)

fig.write_html("out.html")
